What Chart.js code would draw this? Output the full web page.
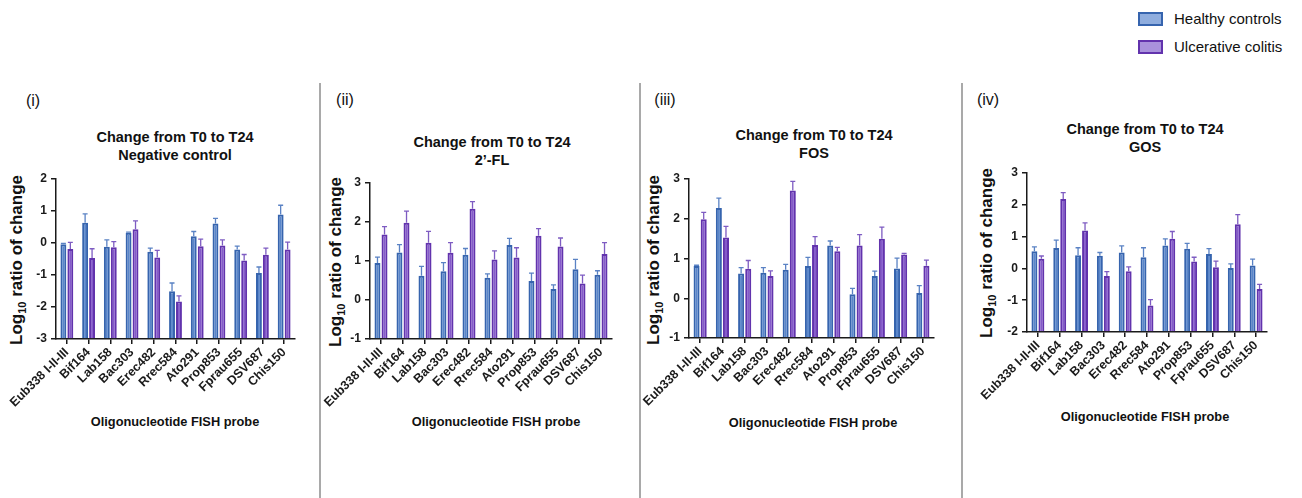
<!DOCTYPE html>
<html><head><meta charset="utf-8">
<script src="https://cdn.jsdelivr.net/npm/chart.js@4.4.0/dist/chart.umd.min.js"></script>
<style>
body{margin:0;width:1302px;height:498px;background:#fff;position:relative;overflow:hidden;font-family:'Liberation Sans',Arial,Helvetica,sans-serif;color:#111}
canvas{position:absolute}
.sep{position:absolute;top:83px;height:415px;width:2px;background:#a9a9a9}
.c{position:absolute;transform:translate(-50%,-50%);white-space:nowrap}
.lbl{font-size:16px}
.title{font-weight:bold;font-size:14.5px;text-align:center;line-height:18px}
.xt{font-weight:bold;font-size:12.8px}
.yt{position:absolute;font-weight:bold;font-size:17px;white-space:nowrap;transform:translate(-50%,-50%) rotate(-90deg)}
.yt sub{font-size:11px;line-height:0}
.lg{position:absolute;font-size:15px;white-space:nowrap}
.box{position:absolute;width:21px;height:10px;border:2px solid}
</style></head><body>
<div id="root"></div>
<script>
// ---- data ----
const probes = ["Eub338 I-II-III","Bif164","Lab158","Bac303","Erec482","Rrec584","Ato291","Prop853","Fprau655","DSV687","Chis150"];
const seriesNames = ["Healthy controls","Ulcerative colitis"];
const panelLabels = ["(i)","(ii)","(iii)","(iv)"];
const panelSubtitles = ["Negative control","2\u2019-FL","FOS","GOS"];
const yTicks1 = [-3,-2,-1,0,1,2];
const yTicks2 = [-1,0,1,2,3];
const yTicks3 = [-1,0,1,2,3];
const yTicks4 = [-2,-1,0,1,2,3];

const negHC    = [-0.04, 0.63,-0.12, 0.32,-0.27,-1.51, 0.21, 0.61,-0.20,-0.94, 0.89];
const negHCerr = [ 0.03, 0.28, 0.22, 0.02, 0.11, 0.26, 0.15, 0.16, 0.10, 0.19, 0.29];
const negUC    = [-0.19,-0.47,-0.13, 0.43,-0.45,-1.83,-0.10,-0.08,-0.55,-0.37,-0.20];
const negUCerr = [ 0.21, 0.29, 0.17, 0.26, 0.22, 0.18, 0.22, 0.18, 0.19, 0.21, 0.23];

const flHC    = [0.95,1.22,0.62,0.74,1.16,0.57,1.41,0.49,0.28,0.79,0.65];
const flHCerr = [0.15,0.20,0.24,0.22,0.16,0.10,0.17,0.20,0.11,0.25,0.10];
const flUC    = [1.68,1.98,1.47,1.21,2.34,1.04,1.09,1.65,1.37,0.42,1.18];
const flUCerr = [0.20,0.30,0.29,0.26,0.18,0.22,0.25,0.18,0.22,0.22,0.29];

const fosHC    = [0.81,2.27,0.62,0.64,0.72,0.81,1.33,0.10,0.56,0.75,0.13];
const fosHCerr = [0.02,0.25,0.15,0.13,0.13,0.22,0.11,0.15,0.12,0.26,0.19];
const fosUC    = [1.99,1.53,0.74,0.56,2.71,1.34,1.18,1.33,1.50,1.10,0.82];
const fosUCerr = [0.17,0.28,0.21,0.13,0.23,0.21,0.10,0.27,0.29,0.03,0.14];

const gosHC    = [0.54,0.64,0.41,0.40,0.50,0.35,0.72,0.62,0.45,0.01,0.09];
const gosHCerr = [0.14,0.25,0.24,0.10,0.21,0.30,0.21,0.17,0.17,0.13,0.20];
const gosUC    = [0.30,2.18,1.19,-0.24,-0.09,-1.17,0.93,0.22,0.04,1.39,-0.65];
const gosUCerr = [0.09,0.20,0.24,0.14,0.14,0.19,0.23,0.13,0.19,0.30,0.15];

// ---- layout / style ----
const panels = [
  {hc:negHC,hce:negHCerr,uc:negUC,uce:negUCerr,ticks:yTicks1,L:56,R:295,T:179,B:339,ytx:17,yty:260,tx:175,ty:128,xtx:175,xty:421,lx:33,ly:101},
  {hc:flHC,hce:flHCerr,uc:flUC,uce:flUCerr,ticks:yTicks2,L:370,R:612,T:183,B:339,ytx:336,yty:262,tx:492,ty:133,xtx:496,xty:421,lx:345,ly:100},
  {hc:fosHC,hce:fosHCerr,uc:fosUC,uce:fosUCerr,ticks:yTicks3,L:689,R:934,T:179,B:338,ytx:654,yty:260,tx:814,ty:126,xtx:813,xty:422,lx:665,ly:100},
  {hc:gosHC,hce:gosHCerr,uc:gosUC,uce:gosUCerr,ticks:yTicks4,L:1027,R:1267,T:173,B:332,ytx:987,yty:253,tx:1145,ty:120,xtx:1145,xty:416,lx:988,ly:100}
];
const COL = {
  hc:{fill:'#5a86ca',border:'#3664ae',err:'#5a82c4'},
  uc:{fill:'#855bca',border:'#6233ad',err:'#7e5cc2'}
};
const FONT = "'Liberation Sans', Arial, Helvetica, sans-serif";
const AXC = '#1a1a1a';

const errPlugin = {
  id:'errbars',
  afterDatasetsDraw(chart){
    const ctx = chart.ctx, ys = chart.scales.y;
    chart.data.datasets.forEach((ds,i)=>{
      const meta = chart.getDatasetMeta(i);
      meta.data.forEach((bar,j)=>{
        const v = ds.data[j], e = ds.errors[j];
        const y0 = ys.getPixelForValue(v), y1 = ys.getPixelForValue(v+e);
        ctx.save();
        ctx.strokeStyle = ds.errColor; ctx.lineWidth = 1.3;
        ctx.beginPath();
        ctx.moveTo(bar.x, y0); ctx.lineTo(bar.x, y1);
        ctx.moveTo(bar.x-2.5, y1); ctx.lineTo(bar.x+2.5, y1);
        ctx.stroke(); ctx.restore();
      });
    });
  }
};

const root = document.getElementById('root');
function add(html){ root.insertAdjacentHTML('beforeend', html); }

[320,640,962].forEach(x=>add(`<div class="sep" style="left:${x-1}px"></div>`));

// legend
add(`<div class="box" style="left:1138px;top:12px;background:#8fadde;border-color:${COL.hc.border}"></div>`);
add(`<div class="lg" style="left:1174px;top:10px">${seriesNames[0]}</div>`);
add(`<div class="box" style="left:1138px;top:40px;background:#a992dc;border-color:${COL.uc.border}"></div>`);
add(`<div class="lg" style="left:1174px;top:38px">${seriesNames[1]}</div>`);

const YW = 50, PT = 12, PR = 10, XH = 78;
panels.forEach((p,k)=>{
  add(`<div class="c lbl" style="left:${p.lx}px;top:${p.ly}px">${panelLabels[k]}</div>`);
  add(`<div class="title" style="position:absolute;left:${p.tx}px;top:${p.ty}px;transform:translateX(-50%);white-space:nowrap">Change from T0 to T24<br>${panelSubtitles[k]}</div>`);
  add(`<div class="yt" style="left:${p.ytx}px;top:${p.yty}px">Log<sub>10</sub> ratio of change</div>`);
  add(`<div class="c xt" style="left:${p.xtx}px;top:${p.xty}px">Oligonucleotide FISH probe</div>`);

  const w = p.R - p.L + YW + PR, h = p.B - p.T + PT + XH;
  const cv = document.createElement('canvas');
  cv.width = w; cv.height = h;
  cv.style.left = (p.L - YW) + 'px'; cv.style.top = (p.T - PT) + 'px';
  cv.style.width = w + 'px'; cv.style.height = h + 'px';
  root.appendChild(cv);
  const ymin = p.ticks[0], ymax = p.ticks[p.ticks.length-1];
  const mk = (name,data,errs,c)=>({label:name,data:data,errors:errs,errColor:c.err,
    backgroundColor:c.fill,borderColor:c.border,borderWidth:2,base:ymin,
    categoryPercentage:0.64,barPercentage:0.85});
  new Chart(cv,{
    type:'bar',
    data:{labels:probes,datasets:[mk(seriesNames[0],p.hc,p.hce,COL.hc),mk(seriesNames[1],p.uc,p.uce,COL.uc)]},
    options:{
      responsive:false,animation:false,devicePixelRatio:1,
      layout:{padding:{left:0,right:PR,top:PT,bottom:0}},
      plugins:{legend:{display:false},tooltip:{enabled:false},title:{display:false}},
      scales:{
        x:{
          offset:true,
          grid:{display:true,drawOnChartArea:false,drawTicks:true,tickLength:5,offset:false,color:AXC,lineWidth:1.5},
          border:{display:true,color:AXC,width:1.5},
          ticks:{color:AXC,font:{family:FONT,size:12.5,weight:'bold'},minRotation:45,maxRotation:45,padding:1,autoSkip:false},
          afterFit:s=>{s.height=XH;}
        },
        y:{
          min:ymin,max:ymax,
          grid:{display:true,drawOnChartArea:false,drawTicks:true,tickLength:5,color:AXC,lineWidth:1.5},
          border:{display:true,color:AXC,width:1.5},
          ticks:{color:AXC,font:{family:FONT,size:12,weight:'bold'},stepSize:1,padding:4},
          afterBuildTicks:s=>{s.ticks=p.ticks.map(v=>({value:v}));},
          afterFit:s=>{s.width=YW;}
        }
      }
    },
    plugins:[errPlugin]
  });
});
</script>
</body></html>
